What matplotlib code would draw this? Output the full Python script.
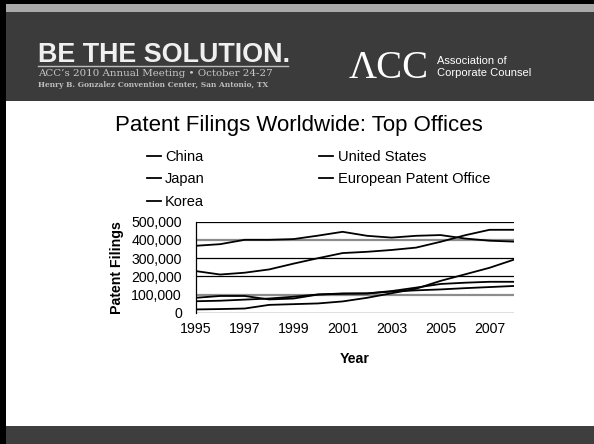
import matplotlib
matplotlib.use("Agg")
import matplotlib.pyplot as plt
from matplotlib.patches import Rectangle
from matplotlib.lines import Line2D
from matplotlib.ticker import FuncFormatter

years = [1995, 1996, 1997, 1998, 1999, 2000, 2001, 2002, 2003, 2004, 2005, 2006, 2007, 2008]
china = [18000, 20000, 23000, 43000, 47000, 51000, 62000, 82000, 107000, 132000, 175000, 211000, 247000, 292000]
japan = [368000, 377000, 401000, 401000, 405000, 424000, 445000, 423000, 413000, 423000, 427000, 408000, 396000, 391000]
korea = [82000, 92000, 92000, 73000, 78000, 100000, 106000, 106000, 119000, 138000, 158000, 165000, 170000, 170000]
united_states = [229000, 210000, 220000, 238000, 270000, 300000, 328000, 335000, 345000, 358000, 390000, 426000, 456000, 456000]
epo = [63000, 66000, 72000, 78000, 88000, 100000, 104000, 106000, 116000, 123000, 128000, 135000, 141000, 147000]
series_names = ["China", "Japan", "Korea", "United States", "European Patent Office"]
x_ticks = [1995, 1997, 1999, 2001, 2003, 2005, 2007]
y_ticks = [0, 100000, 200000, 300000, 400000, 500000]

W, H = 594, 444
fig = plt.figure(figsize=(W / 100, H / 100), dpi=100)
fig.patch.set_facecolor("white")
renderer = fig.canvas.get_renderer()

def fx(px):
    return px / W

def fy(py):
    return 1 - py / H

def rect(x0, y0, x1, y1, color):
    fig.add_artist(Rectangle((fx(x0), fy(y1)), fx(x1) - fx(x0), fy(y0) - fy(y1),
                             transform=fig.transFigure, facecolor=color, edgecolor="none", zorder=0))

def fit_text(x0, x1, baseline, s, size, **kw):
    t = fig.text(fx(x0), fy(baseline), s, fontsize=size, ha="left", va="baseline", **kw)
    w = t.get_window_extent(renderer).width
    t.set_fontsize(size * (x1 - x0) / w)
    return t

# slide frame
rect(0, 0, W, 12, "#a9a9a9")
rect(0, 12, W, 101, "#3b3b3b")
rect(0, 426, W, H, "#3e3e3e")
rect(0, 0, W, 4, "#000000")
rect(0, 0, 6, H, "#000000")

# header texts
fit_text(38, 290, 62, "BE THE SOLUTION.", 20, color="#f0f0f0",
         family="Liberation Sans", weight="bold")
fig.add_artist(Line2D([fx(38), fx(288)], [fy(66), fy(66)], transform=fig.transFigure,
                      color="#bdbdbd", lw=1.0))
fit_text(38, 272, 76, "ACC\u2019s 2010 Annual Meeting \u2022 October 24-27", 8, color="#c8c8c8",
         family="DejaVu Serif")
fit_text(38, 272, 87, "Henry B. Gonzalez Convention Center, San Antonio, TX", 5.5, color="#bdbdbd",
         family="DejaVu Serif", weight="bold")
fig.text(fx(349), fy(78), "\u039bCC", color="white", fontsize=28, family="Liberation Serif",
         ha="left", va="baseline")
fig.text(fx(437), fy(64), "Association of", color="white", fontsize=8, family="Liberation Sans",
         ha="left", va="baseline")
fig.text(fx(437), fy(76), "Corporate Counsel", color="white", fontsize=8, family="Liberation Sans",
         ha="left", va="baseline")

# title
fig.text(fx(299), fy(131), "Patent Filings Worldwide: Top Offices", fontsize=16,
         family="Liberation Sans", ha="center", va="baseline")

# chart
ax = fig.add_axes([fx(195.7), fy(312.7), fx(514) - fx(195.7), fy(221.8) - fy(312.7)])
ax.set_facecolor("none")
for yv in y_ticks:
    if yv in (100000, 400000):
        ax.axhline(yv, color="#8c8c8c", lw=1.6, zorder=1)
    else:
        ax.axhline(yv, color="black", lw=0.9, zorder=1)

series = [china, japan, korea, united_states, epo]
for name, vals in zip(series_names, series):
    ax.plot(years, vals, color="black", lw=1.3, label=name, zorder=3)

ax.set_xlim(1995, 2008)
ax.set_ylim(0, 500000)
ax.set_xticks(x_ticks)
ax.set_yticks(y_ticks)
ax.yaxis.set_major_formatter(FuncFormatter(lambda v, p: f"{int(v):,}"))
ax.tick_params(axis="both", length=0, labelsize=10.2)
ax.tick_params(axis="x", pad=7)
ax.tick_params(axis="y", pad=10)
for lab in ax.get_xticklabels() + ax.get_yticklabels():
    lab.set_family("Liberation Sans")
for s in ("top", "right", "bottom"):
    ax.spines[s].set_visible(False)
ax.spines["left"].set_color("black")
ax.spines["left"].set_linewidth(0.9)
ax.set_xlabel("Year", fontsize=10.2, family="Liberation Sans", weight="bold", labelpad=11)
ax.set_ylabel("Patent Filings", fontsize=10.2, family="Liberation Sans", weight="bold", labelpad=5)

leg = fig.legend(ncol=2, loc="upper left", bbox_to_anchor=(fx(147), fy(150)),
                 frameon=False, handlelength=0.95, handletextpad=0.3, columnspacing=7.85,
                 labelspacing=0.58, prop={"family": "Liberation Sans", "size": 10.5},
                 borderaxespad=0, borderpad=0)

fig.savefig("out.png", dpi=100, facecolor=fig.get_facecolor())
